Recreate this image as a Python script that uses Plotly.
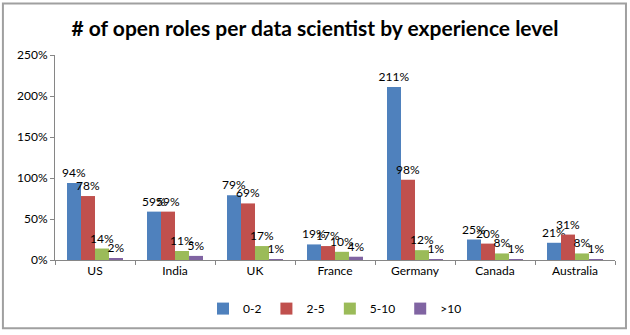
import plotly.graph_objects as go

countries = ["US", "India", "UK", "France", "Germany", "Canada", "Australia"]
levels = ["0-2", "2-5", "5-10", ">10"]
roles_0_2 = [94, 59, 79, 19, 211, 25, 21]
roles_2_5 = [78, 59, 69, 17, 98, 20, 31]
roles_5_10 = [14, 11, 17, 10, 12, 8, 8]
roles_10_plus = [2, 5, 1, 4, 1, 1, 1]
y_ticks = [0, 50, 100, 150, 200, 250]

colors = ["#4F81BD", "#C0504D", "#9BBB59", "#8064A2"]
series = [roles_0_2, roles_2_5, roles_5_10, roles_10_plus]

fig = go.Figure()
for name, values, color in zip(levels, series, colors):
    fig.add_trace(
        go.Bar(
            x=countries,
            y=values,
            name=name,
            marker={"color": color, "line": {"width": 0}},
            text=[f"{v}%" for v in values],
            textposition="outside",
            textfont={"size": 12, "color": "#000000"},
            cliponaxis=False,
        )
    )

fig.update_layout(
    width=630,
    height=335,
    barmode="group",
    bargap=0.3,
    bargroupgap=0,
    font={"family": "Lato, 'Open Sans', sans-serif", "size": 12, "color": "#000000"},
    title={
        "text": "<b># of open roles per data scientist by experience level</b>",
        "x": 0.5,
        "xanchor": "center",
        "y": 0.915,
        "yanchor": "middle",
        "font": {"size": 21},
    },
    plot_bgcolor="white",
    paper_bgcolor="white",
    margin={"l": 55, "r": 15, "t": 55, "b": 73},
    showlegend=True,
    legend={
        "orientation": "h",
        "x": 0.5,
        "xanchor": "center",
        "y": -0.237,
        "yanchor": "middle",
        "font": {"size": 12},
        "itemwidth": 30,
        "traceorder": "normal",
    },
    uniformtext={"mode": "show", "minsize": 12},
    shapes=[
        {
            "type": "rect",
            "xref": "paper",
            "yref": "paper",
            "x0": -0.093,
            "x1": 1.0196,
            "y0": -0.333,
            "y1": 1.251,
            "line": {"color": "#A0A0A0", "width": 2},
            "fillcolor": "rgba(0,0,0,0)",
            "layer": "below",
        }
    ],
)
fig.update_xaxes(
    showline=True,
    linecolor="#868686",
    ticks="outside",
    tickson="boundaries",
    ticklen=4,
    tickcolor="#868686",
    showgrid=False,
    tickfont={"size": 12},
)
fig.update_yaxes(
    range=[0, 250],
    tickvals=y_ticks,
    ticktext=[f"{v}%" for v in y_ticks],
    showline=True,
    linecolor="#868686",
    ticks="outside",
    ticklen=4,
    tickcolor="#868686",
    showgrid=False,
    zeroline=False,
    tickfont={"size": 12},
)

# drop the default page margin so the 630x335 figure fills the window
fig.write_html(
    "out.html",
    config={"displayModeBar": False},
    post_script="document.body.style.margin='0'; document.body.style.overflow='hidden';",
)
